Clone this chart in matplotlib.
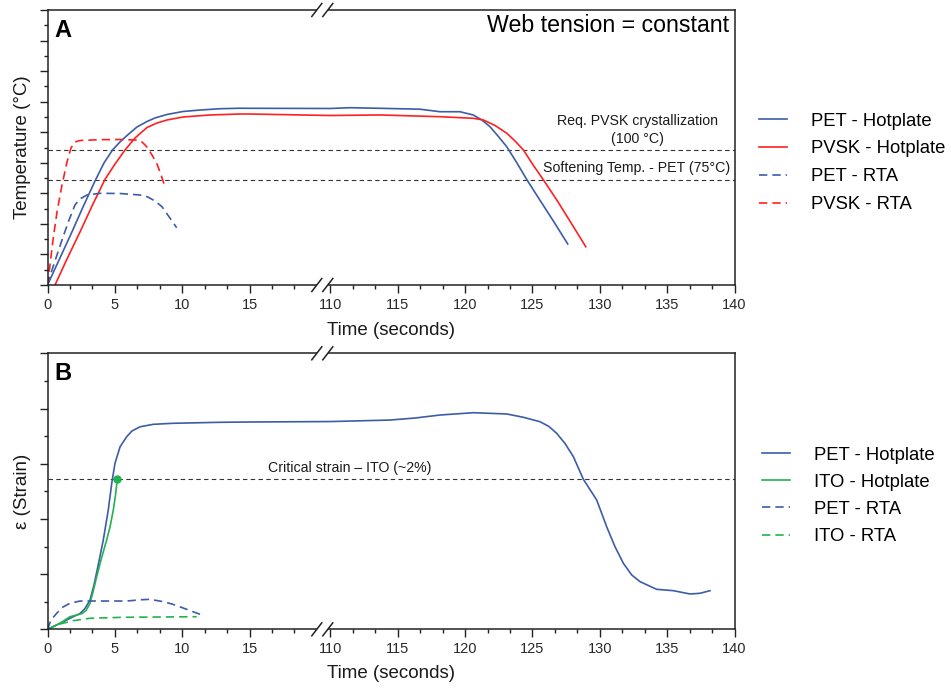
import numpy as np
import matplotlib
matplotlib.use("Agg")
import matplotlib.pyplot as plt
from matplotlib.patches import Rectangle
from matplotlib.lines import Line2D

plt.rcParams["font.family"] = ["Liberation Sans", "DejaVu Sans"]

# ---------------- Panel A: temperature (°C) vs time (s) ----------------
pet_hot_t = [0.0, 0.854, 1.745, 2.636, 3.526, 4.194, 4.826, 5.383, 5.902, 6.645, 7.387, 7.98,
             8.87, 10.06, 11.32, 12.81, 14.29, 15.03,
             110.0, 111.46, 113.68, 116.65, 118.14, 119.62, 120.6, 121.25, 121.85, 122.44,
             123.09, 123.85, 124.6, 125.55, 126.6, 127.62]
pet_hot_T = [-12.5, 8.3, 30.0, 52.5, 74.2, 89.2, 100.0, 106.7, 112.1, 119.2, 123.75, 126.7,
             129.6, 132.1, 133.3, 134.4, 134.8, 134.75,
             134.6, 135.25, 134.75, 134.0, 131.9, 131.9, 129.2, 125.0, 119.4, 111.7,
             102.75, 89.2, 75.0, 58.3, 40.0, 21.7]

pvsk_hot_t = [0.557, 1.448, 2.413, 3.304, 4.27, 5.01, 5.754, 6.496, 7.387, 8.13, 8.87, 10.06,
              12.06, 14.29, 15.03,
              110.0, 113.68, 118.14, 120.62, 121.36, 122.23, 123.1, 123.71, 124.33, 125.05,
              125.82, 126.81, 127.87, 128.96]
pvsk_hot_T = [-12.5, 9.2, 31.7, 53.3, 75.6, 88.3, 100.0, 110.0, 118.75, 122.5, 125.0, 127.5,
              129.2, 130.0, 130.0,
              128.75, 129.2, 127.75, 126.4, 125.0, 120.4, 113.9, 107.5, 100.0, 87.5,
              75.0, 58.3, 39.2, 19.4]

pet_rta_t = [0.0, 0.334, 0.705, 1.15, 1.6, 2.04, 2.41, 2.93, 3.9, 5.38, 6.87, 7.46, 7.98,
             8.5, 9.1, 9.59]
pet_rta_T = [-12.5, 0.0, 12.5, 27.5, 41.7, 54.2, 59.2, 62.5, 63.9, 63.75, 62.5, 60.8, 57.5,
             52.75, 43.1, 35.25]

pvsk_rta_t = [0.0, 0.186, 0.408, 0.705, 1.076, 1.448, 1.745, 2.04, 2.41, 3.9, 5.38, 6.64,
              7.02, 7.36, 7.76, 8.11, 8.43, 8.72]
pvsk_rta_T = [-12.5, 4.2, 25.0, 48.3, 70.8, 90.0, 101.7, 106.7, 107.9, 108.6, 108.75, 108.3,
              106.7, 102.75, 95.8, 88.9, 79.2, 69.4]

t_crystallization = 100   # °C
t_softening_pet = 75      # °C

# ---------------- Panel B: strain (%) vs time (s) ----------------
pet_hot_strain_t = [0.0, 0.93, 1.915, 2.41, 2.78, 3.155, 3.45, 3.75, 4.14, 4.51, 4.77, 5.01,
                    5.39, 5.88, 6.27, 6.87, 7.85, 9.34, 12.8, 15.03,
                    110.0, 114.42, 116.28, 118.14, 120.61, 123.09, 124.32, 125.56, 126.23,
                    126.8, 127.42, 128.04, 128.78, 129.77, 130.51, 131.13, 131.75, 132.37,
                    132.99, 134.22, 135.46, 136.7, 137.44, 138.18]
pet_hot_strain = [0.0, 0.08, 0.168, 0.21, 0.277, 0.39, 0.59, 0.844, 1.19, 1.59, 1.947, 2.213,
                  2.435, 2.568, 2.644, 2.70, 2.733, 2.747, 2.76, 2.764,
                  2.77, 2.79, 2.817, 2.857, 2.888, 2.871, 2.827, 2.768, 2.704,
                  2.613, 2.477, 2.301, 2.0, 1.724, 1.368, 1.101, 0.88, 0.724,
                  0.635, 0.533, 0.515, 0.471, 0.48, 0.515]

ito_hot_strain_t = [0.0, 0.93, 1.67, 2.17, 2.56, 2.86, 3.155, 3.415, 3.65, 4.01, 4.39, 4.64,
                    4.885, 5.05, 5.18]
ito_hot_strain = [0.0, 0.08, 0.168, 0.19, 0.21, 0.25, 0.347, 0.524, 0.70, 0.95, 1.19, 1.364,
                  1.59, 1.79, 2.0]

pet_rta_strain_t = [0.0, 0.26, 0.68, 1.15, 1.67, 2.41, 4.39, 5.88, 6.87, 7.61, 8.6, 9.24,
                    9.83, 10.57, 11.32]
pet_rta_strain = [0.0, 0.124, 0.213, 0.297, 0.347, 0.377, 0.377, 0.377, 0.393, 0.40, 0.368,
                  0.337, 0.30, 0.25, 0.20]

ito_rta_strain_t = [0.0, 0.93, 1.915, 3.155, 5.63, 11.08]
ito_rta_strain = [0.0, 0.071, 0.115, 0.147, 0.16, 0.168]

critical_strain_ito = 2.0  # %

x_major = [0, 5, 10, 15, 110, 115, 120, 125, 130, 135, 140]

BLUE = "#3d5ca8"
RED = "#ff2020"
GREEN = "#22b24f"
REF = "#333333"
TXT = "#1a1a1a"


# broken time axis: 0-20 s shown at full scale, 20-110 s squeezed into one unit
def fwd(t):
    t = np.asarray(t, dtype=float)
    return np.where(t <= 20, t, np.where(t >= 110, t - 89, 20 + (t - 20) / 90.0))


def inv(u):
    u = np.asarray(u, dtype=float)
    return np.where(u <= 20, u, np.where(u >= 21, u + 89, 20 + (u - 20) * 90.0))


fig = plt.figure(figsize=(9.51, 6.87), dpi=100)
W, H = 951.0, 687.0
axA = fig.add_axes([47.5 / W, 1 - 285 / H, 687 / W, 275 / H])
axB = fig.add_axes([47.5 / W, 1 - 629.3 / H, 687 / W, 276 / H])

x_minor = [v for v in np.concatenate([np.arange(0, 19, 5 / 3), np.arange(110, 140, 5 / 3)])
           if min(abs(v - m) for m in x_major) > 0.1]


def style_axis(ax, ylim, nmajor, xlabel_y):
    ax.set_xscale("function", functions=(fwd, inv))
    ax.set_xlim(0, 140)
    ax.set_ylim(*ylim)
    ax.set_xticks(x_major)
    ax.set_xticklabels([str(v) for v in x_major])
    ax.set_xticks(x_minor, minor=True)
    ymaj = np.linspace(ylim[0], ylim[1], nmajor)
    ax.set_yticks(ymaj)
    ax.set_yticks((ymaj[:-1] + ymaj[1:]) / 2, minor=True)
    ax.tick_params(axis="both", which="major", direction="out", length=5.5, width=1.0,
                   color="#222222", labelsize=10.5, labelcolor="#2a2a2a", pad=4)
    ax.tick_params(axis="both", which="minor", direction="out", length=3, width=1.0,
                   color="#222222")
    ax.tick_params(axis="y", labelleft=False)
    for s in ax.spines.values():
        s.set_linewidth(1.1)
        s.set_color("#222222")
    ax.set_xlabel("Time (seconds)", fontsize=13.5, color=TXT)
    ax.xaxis.set_label_coords(0.5, xlabel_y)


def draw_break(ax, hpx):
    xb = 20.4 / 51.0
    dxs = 5.5 / 687.0
    hw = 5.0 / 687.0
    hh = 6.5 / hpx
    for yb in (0.0, 1.0):
        ax.add_patch(Rectangle((xb - dxs, yb - 2.5 / hpx), 2 * dxs, 5 / hpx,
                               transform=ax.transAxes, facecolor="white", edgecolor="none",
                               clip_on=False, zorder=10))
        for c in (xb - dxs, xb + dxs):
            ax.add_line(Line2D([c - hw, c + hw], [yb - hh, yb + hh], transform=ax.transAxes,
                               color="#222222", lw=1.1, clip_on=False, zorder=11))


legend_kw = dict(loc="upper left", bbox_transform=fig.transFigure, frameon=False,
                 fontsize=13.3, handlelength=1.5, handletextpad=1.3,
                 borderpad=0, borderaxespad=0)
dash = (0, (5, 3))

# ---------------- draw panel A ----------------
style_axis(axA, (-12.5, 216.67), 10, -0.135)
axA.plot(pet_hot_t, pet_hot_T, color=BLUE, lw=1.2, label="PET - Hotplate")
axA.plot(pvsk_hot_t, pvsk_hot_T, color=RED, lw=1.2, label="PVSK - Hotplate")
axA.plot(pet_rta_t, pet_rta_T, color=BLUE, lw=1.2, ls=dash, label="PET - RTA")
axA.plot(pvsk_rta_t, pvsk_rta_T, color=RED, lw=1.2, ls=dash, label="PVSK - RTA")
axA.axhline(t_crystallization, color=REF, lw=0.8, ls=(0, (4, 3)), zorder=1)
axA.axhline(t_softening_pet, color=REF, lw=0.8, ls=(0, (4, 3)), zorder=1)
axA.set_ylabel("Temperature (°C)", fontsize=13.5, color=TXT)
axA.yaxis.set_label_coords(-0.024, 0.5)
axA.text(0.0102, 0.902, "A", transform=axA.transAxes, fontsize=17, fontweight="bold",
         color="black", va="baseline", ha="left")
axA.text(0.992, 0.919, "Web tension = constant", transform=axA.transAxes, fontsize=16.7,
         color="black", va="baseline", ha="right")
xa = lambda px: (px - 47.5) / 687.0
ya = lambda py: (285 - py) / 275.0
axA.text(xa(637.5), ya(125.3), "Req. PVSK crystallization", transform=axA.transAxes,
         fontsize=10.2, color=TXT, ha="center", va="baseline")
axA.text(xa(637.5), ya(142.7), "(100 °C)", transform=axA.transAxes,
         fontsize=10.2, color=TXT, ha="center", va="baseline")
axA.text(xa(730.5), ya(171.7), "Softening Temp. - PET (75°C)", transform=axA.transAxes,
         fontsize=10.2, color=TXT, ha="right", va="baseline")
draw_break(axA, 275.0)
axA.legend(bbox_to_anchor=(759 / W, 1 - 112.5 / H), labelspacing=0.59, **legend_kw)

# ---------------- draw panel B ----------------
style_axis(axB, (0, 3.68), 6, -0.129)
axB.plot(pet_hot_strain_t, pet_hot_strain, color=BLUE, lw=1.2, label="PET - Hotplate")
axB.plot(ito_hot_strain_t, ito_hot_strain, color=GREEN, lw=1.2, label="ITO - Hotplate")
axB.plot(pet_rta_strain_t, pet_rta_strain, color=BLUE, lw=1.2, ls=dash, label="PET - RTA")
axB.plot(ito_rta_strain_t, ito_rta_strain, color=GREEN, lw=1.2, ls=dash, label="ITO - RTA")
axB.plot([ito_hot_strain_t[-1]], [ito_hot_strain[-1]], "o", color=GREEN, ms=5, zorder=5)
axB.axhline(critical_strain_ito, color=REF, lw=0.8, ls=(0, (4, 3)), zorder=1)
axB.set_ylabel("ε (Strain)", fontsize=13.5, color=TXT)
axB.yaxis.set_label_coords(-0.024, 0.5)
axB.text(0.0102, 0.903, "B", transform=axB.transAxes, fontsize=17, fontweight="bold",
         color="black", va="baseline", ha="left")
yb_ = lambda py: (629.3 - py) / 276.0
axB.text(xa(349.7), yb_(471.7), "Critical strain – ITO (~2%)", transform=axB.transAxes,
         fontsize=10.2, color=TXT, ha="center", va="baseline")
draw_break(axB, 276.0)
axB.legend(bbox_to_anchor=(762 / W, 1 - 446.5 / H), labelspacing=0.55, **legend_kw)

fig.savefig("out.png", dpi=100)
